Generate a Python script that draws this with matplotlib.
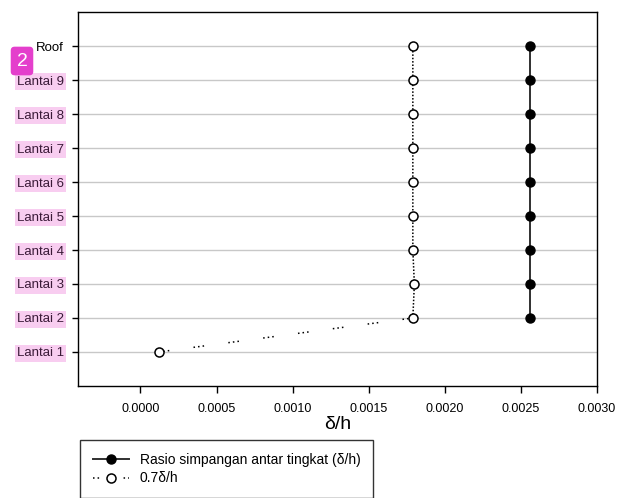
import matplotlib
matplotlib.use('Agg')
import matplotlib.pyplot as plt

plt.rcParams['font.family'] = ['Liberation Sans', 'DejaVu Sans']

lantai = ['Lantai 1', 'Lantai 2', 'Lantai 3', 'Lantai 4', 'Lantai 5',
          'Lantai 6', 'Lantai 7', 'Lantai 8', 'Lantai 9', 'Roof']
# rasio simpangan antar tingkat (mulai dari Lantai 2)
rasio = [0.00256, 0.00256, 0.00256, 0.00256, 0.00256,
         0.00256, 0.00256, 0.00256, 0.00256]
# 0.7 * delta/h
rasio_07 = [0.00012, 0.00179, 0.00180, 0.00179, 0.00179,
            0.00179, 0.00179, 0.00179, 0.00179, 0.00179]
xticks = [0.0, 0.0005, 0.0010, 0.0015, 0.0020, 0.0025, 0.0030]

fig = plt.figure(figsize=(6.19, 4.98), dpi=100)
ax = fig.add_axes([78/619, 1-386/498, (597-78)/619, (386-12)/498])

y_all = list(range(1, len(lantai) + 1))
ax.plot(rasio, y_all[1:], '-', color='#303030', lw=1.4, marker='o',
        mfc='black', mec='black', ms=6.5, zorder=3,
        label='Rasio simpangan antar tingkat (\u03b4/h)')
# garis titik-titik: bagian miring (Lantai 1-2) jarang, bagian tegak rapat
ax.plot(rasio_07[:2], y_all[:2], color='black', lw=1.1,
        ls=(0, (1, 2, 1, 2, 1, 16)), zorder=2)
ax.plot(rasio_07[1:], y_all[1:], color='black', lw=1.1,
        ls=(0, (1, 1.2)), zorder=2)
ax.plot(rasio_07, y_all, ls='none', marker='o', mfc='white', mec='black',
        mew=1.1, ms=6.5, zorder=3)
ax.plot([], [], color='black', lw=1.1, ls=(0, (1, 2, 1, 16)), marker='o',
        mfc='white', mec='black', mew=1.1, ms=6.5, label='0.7\u03b4/h')

ax.set_xlim(-0.00041, 0.0030)
ax.set_ylim(0, 11)
ax.set_xticks(xticks)
ax.set_xticklabels(['%.4f' % v for v in xticks], fontsize=9)
ax.set_yticks(y_all)
ax.set_yticklabels(lantai, fontsize=9.5)
for lbl in ax.get_yticklabels():
    if lbl.get_text() != 'Roof':
        lbl.set_color('#3a1a38')
        lbl.set_bbox(dict(facecolor='#f8cdf0', edgecolor='none', pad=1.5))
ax.tick_params(direction='out', length=4, width=1, pad=6)
ax.tick_params(axis='x', length=5, pad=7)
ax.grid(axis='y', color='#c8c8c8', lw=1)
ax.set_axisbelow(True)
for s in ax.spines.values():
    s.set_linewidth(1)
ax.set_xlabel('\u03b4/h', fontsize=14, labelpad=1)

leg = ax.legend(loc='upper left', bbox_to_anchor=(80/619, 1-440/498),
                bbox_transform=fig.transFigure, fontsize=10, frameon=True,
                fancybox=False, edgecolor='black', borderpad=0.9,
                handlelength=2.6, labelspacing=0.35, borderaxespad=0)
leg.get_frame().set_linewidth(1)

# penanda "2"
fig.text(22/619, 1-61/498, '2', color='white', fontsize=14, ha='center', va='center',
         bbox=dict(boxstyle='round,pad=0.3,rounding_size=0.2', facecolor='#e43fcc',
                   edgecolor='none'))

plt.savefig('out.png', dpi=100)
plt.close()
